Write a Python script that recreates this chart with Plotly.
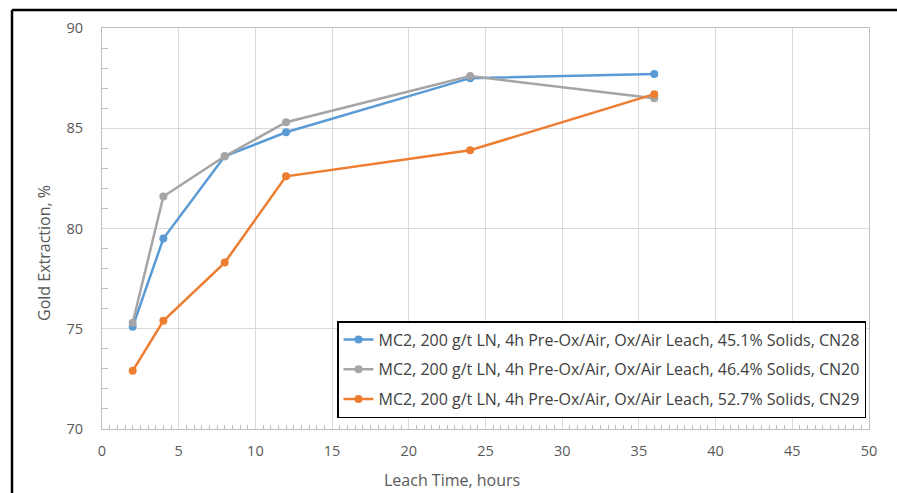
import plotly.graph_objects as go

# Leach time (hours) and gold extraction (%) for each test
hours = [2, 4, 8, 12, 24, 36]
cn28 = [75.1, 79.5, 83.6, 84.8, 87.5, 87.7]
cn20 = [75.3, 81.6, 83.6, 85.3, 87.6, 86.5]
cn29 = [72.9, 75.4, 78.3, 82.6, 83.9, 86.7]

names = [
    "MC2, 200 g/t LN, 4h Pre-Ox/Air, Ox/Air Leach, 45.1% Solids, CN28",
    "MC2, 200 g/t LN, 4h Pre-Ox/Air, Ox/Air Leach, 46.4% Solids, CN20",
    "MC2, 200 g/t LN, 4h Pre-Ox/Air, Ox/Air Leach, 52.7% Solids, CN29",
]
colors = ["#5B9BD5", "#A5A5A5", "#ED7D31"]
series = [cn28, cn20, cn29]

W, H = 897, 493
ML, MR, MT, MB = 102, 28, 28, 64
PW, PH = W - ML - MR, H - MT - MB


def px(x):
    return (x - ML) / PW


def py(y):
    return (H - MB - y) / PH


FONT = "Open Sans"
TXT = "#595959"

fig = go.Figure()
for i, (vals, name, col) in enumerate(zip(series, names, colors)):
    fig.add_trace(go.Scatter(
        x=hours, y=vals, name=name, mode="lines+markers",
        line=dict(color=col, width=2.5),
        marker=dict(color=col, size=8, symbol="circle"),
        legendgroup=f"g{i}",
    ))

axis_common = dict(
    showgrid=True, gridcolor="#D9D9D9", gridwidth=1,
    showline=True, linecolor="#BFBFBF", linewidth=1, mirror=True,
    zeroline=False, ticks="", tickfont=dict(family=FONT, size=14.5, color=TXT),
)

fig.update_xaxes(
    range=[0, 50], dtick=5, tick0=0,
    minor=dict(dtick=0.5, ticks="inside", ticklen=4, tickcolor="#BFBFBF", showgrid=False),
    ticklabelstandoff=9,
    **axis_common,
)
fig.update_yaxes(
    range=[70, 90], dtick=5, tick0=70,
    minor=dict(dtick=1, ticks="inside", ticklen=6, tickcolor="#BFBFBF", showgrid=False),
    ticklabelstandoff=15,
    **axis_common,
)

fig.update_layout(
    width=W, height=H,
    margin=dict(l=ML, r=MR, t=MT, b=MB),
    paper_bgcolor="white", plot_bgcolor="white",
    font=dict(family=FONT, color=TXT),
    showlegend=True,
    legend=dict(
        x=px(866), y=py(418), xanchor="right", yanchor="bottom",
        bgcolor="white", bordercolor="#000000", borderwidth=1.5,
        font=dict(family=FONT, size=16, color="#404040"),
        tracegroupgap=6, itemwidth=30,
    ),
    annotations=[
        dict(text="Leach Time, hours", x=px(452), y=py(480), xref="paper", yref="paper",
             showarrow=False, xanchor="center", yanchor="middle",
             font=dict(family=FONT, size=16, color=TXT)),
        dict(text="Gold Extraction, %", x=px(44), y=py(253), xref="paper", yref="paper",
             showarrow=False, xanchor="center", yanchor="middle", textangle=-90,
             font=dict(family=FONT, size=16, color=TXT)),
    ],
    shapes=[
        dict(type="line", xref="paper", yref="paper",
             x0=px(12), x1=px(W + 2), y0=py(10), y1=py(10),
             line=dict(color="black", width=2.5)),
        dict(type="line", xref="paper", yref="paper",
             x0=px(12), x1=px(12), y0=py(10), y1=py(H + 2),
             line=dict(color="black", width=2.5)),
    ],
)

fig.write_html("out.html")
